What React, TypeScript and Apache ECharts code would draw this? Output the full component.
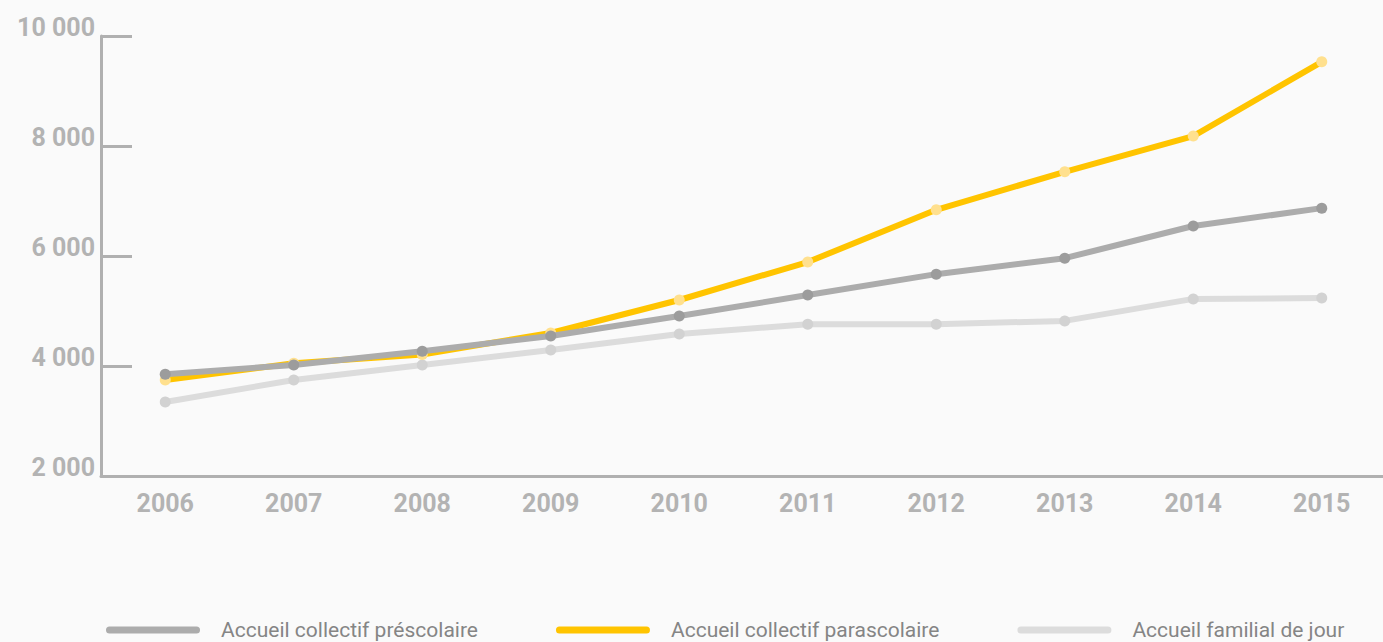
import React, { useEffect, useRef } from "react";
import * as echarts from "echarts";

const years = ["2006", "2007", "2008", "2009", "2010", "2011", "2012", "2013", "2014", "2015"];
const prescolaire = [3850, 4020, 4270, 4545, 4910, 5290, 5670, 5960, 6545, 6870];
const parascolaire = [3745, 4050, 4210, 4600, 5200, 5890, 6840, 7530, 8180, 9530];
const familial = [3345, 3745, 4020, 4290, 4580, 4760, 4760, 4820, 5220, 5235];
const seriesNames = ["Accueil collectif préscolaire", "Accueil collectif parascolaire", "Accueil familial de jour"];
const yTicks = { min: 2000, max: 10000, interval: 2000 };

const lineColors = ["#acacac", "#ffc400", "#dcdcdc"];
const pointColors = ["#9c9c9c", "#ffe08e", "#d2d2d2"];

const capsule = "path://M3.5,0 H90.5 A3.5,3.5 0 0 1 90.5,7 H3.5 A3.5,3.5 0 0 1 3.5,0 Z";

export default function App() {
  const ref = useRef<HTMLDivElement>(null);
  useEffect(() => {
    if (!ref.current) return;
    const chart = echarts.init(ref.current, undefined, { renderer: "svg" });
    const values = [prescolaire, parascolaire, familial];
    const zs = [4, 3, 2];
    chart.setOption({
      animation: false,
      backgroundColor: "#fafafa",
      textStyle: { fontFamily: "Roboto" },
      grid: { left: 101, top: 36, width: 1285, height: 440 },
      legend: {
        left: 106,
        top: 619,
        padding: 0,
        itemGap: 78,
        itemWidth: 94,
        itemHeight: 7,
        icon: capsule,
        textStyle: { fontFamily: "Roboto", fontSize: 21, lineHeight: 22, color: "#858585", padding: [0, 0, 0, 16] },
        data: seriesNames.map((n, i) => ({ name: n, itemStyle: { color: lineColors[i] } })),
      },
      xAxis: {
        type: "category",
        data: years,
        boundaryGap: true,
        axisLine: { lineStyle: { color: "#b0b0b0", width: 3 } },
        axisTick: { inside: true, length: 10, lineStyle: { color: "#b0b0b0", width: 3 } },
        axisLabel: { margin: 15, fontSize: 25, fontWeight: "bold", color: "#b3b3b3", fontFamily: "Roboto" },
      },
      yAxis: {
        type: "value",
        min: yTicks.min,
        max: yTicks.max,
        interval: yTicks.interval,
        splitLine: { show: false },
        axisLine: { show: true, lineStyle: { color: "#b0b0b0", width: 3 } },
        axisTick: { show: true, inside: true, length: 31, lineStyle: { color: "#b0b0b0", width: 3 } },
        axisLabel: {
          margin: 6,
          fontSize: 25,
          fontWeight: "bold",
          color: "#b3b3b3",
          fontFamily: "Roboto",
          verticalAlign: "bottom",
          padding: [0, 0, -4, 0],
          formatter: (v: number) => String(v).replace(/\B(?=(\d{3})+(?!\d))/g, " "),
        },
      },
      series: values.map((d, i) => ({
        name: seriesNames[i],
        type: "line",
        data: d,
        z: zs[i],
        symbol: "circle",
        symbolSize: 11,
        showSymbol: true,
        lineStyle: { color: lineColors[i], width: 6 },
        itemStyle: { color: pointColors[i] },
      })),
    });
    return () => chart.dispose();
  }, []);
  return (
    <div style={{ position: "fixed", left: 0, top: 0, width: 1383, height: 642, overflow: "hidden", background: "#fafafa" }}>
      <div ref={ref} style={{ width: 1400, height: 642 }} />
    </div>
  );
}
